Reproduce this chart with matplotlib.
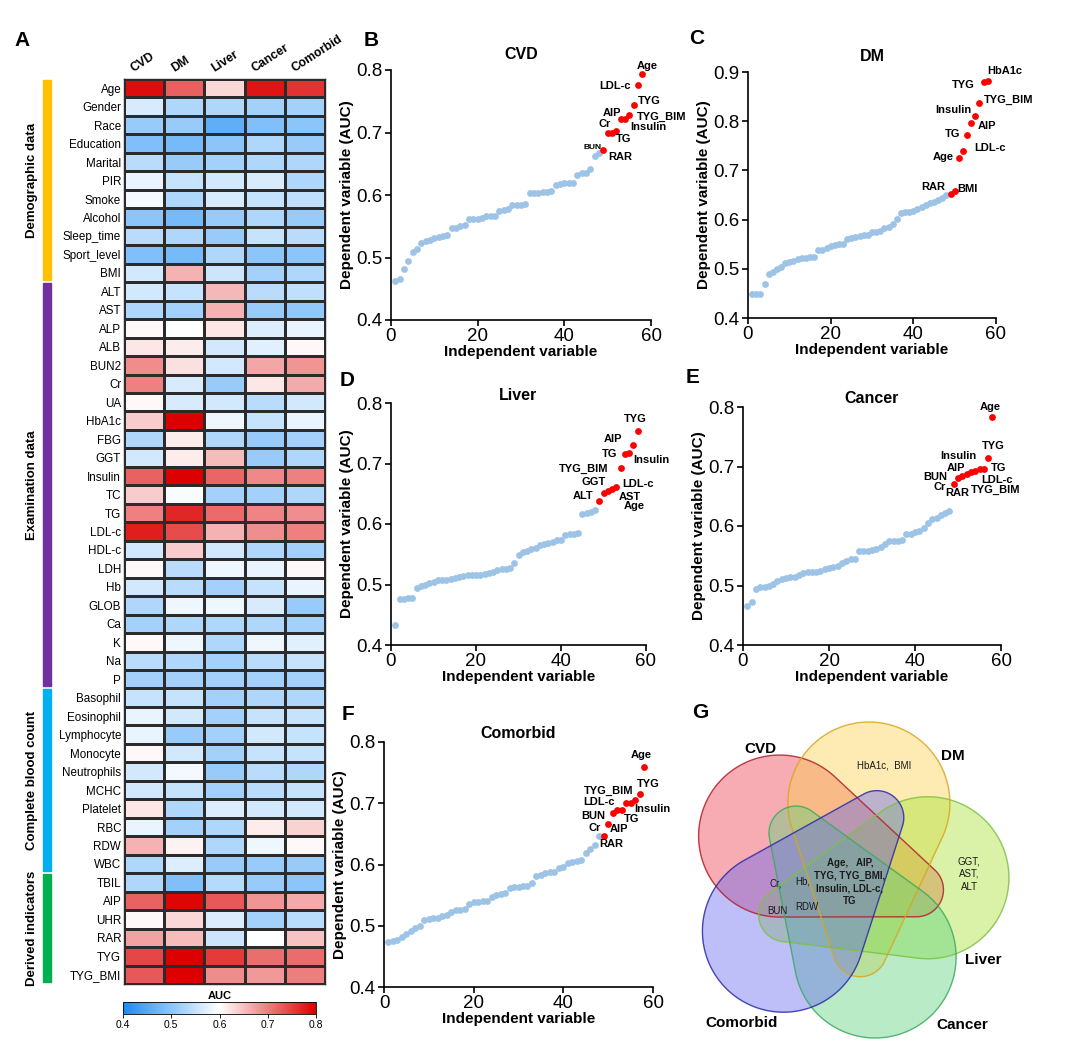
"""Heatmap of AUC values, ranked AUC scatter panels and five-set overlap diagram."""

import numpy as np
import matplotlib

matplotlib.use("Agg")
import matplotlib.pyplot as plt
from matplotlib.colors import LinearSegmentedColormap
from matplotlib.patches import Polygon, Rectangle

plt.rcParams["font.family"] = ["Liberation Sans", "DejaVu Sans"]

W, H = 1080, 1045

DISEASES = ["CVD", "DM", "Liver", "Cancer", "Comorbid"]
ROWS = [
    "Age", "Gender", "Race", "Education", "Marital", "PIR", "Smoke", "Alcohol",
    "Sleep_time", "Sport_level", "BMI",
    "ALT", "AST", "ALP", "ALB", "BUN2", "Cr", "UA", "HbA1c", "FBG", "GGT",
    "Insulin", "TC", "TG", "LDL-c", "HDL-c", "LDH", "Hb", "GLOB", "Ca", "K", "Na", "P",
    "Basophil", "Eosinophil", "Lymphocyte", "Monocyte", "Neutrophils", "MCHC",
    "Platelet", "RBC", "RDW", "WBC",
    "TBIL", "AIP", "UHR", "RAR", "TYG", "TYG_BMI",
]
GROUP_NAMES = ["Demographic data", "Examination data", "Complete blood count", "Derived indicators"]
GROUP_SPANS = [(0, 11), (11, 33), (33, 43), (43, 49)]
GROUP_COLORS = ["#FFC000", "#7030A0", "#00B0F0", "#00B050"]

CVD_AUC = [0.79, 0.565, 0.51, 0.49, 0.54, 0.58, 0.59, 0.50, 0.54, 0.49, 0.56,
           0.56, 0.53, 0.605, 0.62, 0.69, 0.70, 0.605, 0.64, 0.53, 0.56, 0.723, 0.64,
           0.70, 0.776, 0.56, 0.605, 0.56, 0.53, 0.52, 0.605, 0.54, 0.52,
           0.55, 0.58, 0.58, 0.605, 0.56, 0.56, 0.62, 0.58, 0.66, 0.53,
           0.53, 0.722, 0.605, 0.672, 0.745, 0.73]
DM_AUC = [0.725, 0.53, 0.51, 0.48, 0.51, 0.55, 0.53, 0.48, 0.53, 0.48, 0.66,
          0.55, 0.52, 0.60, 0.615, 0.625, 0.565, 0.565, 0.88, 0.615, 0.615, 0.81, 0.595,
          0.77, 0.74, 0.64, 0.54, 0.54, 0.585, 0.53, 0.585, 0.53, 0.52,
          0.55, 0.56, 0.51, 0.56, 0.59, 0.55, 0.53, 0.52, 0.61, 0.57,
          0.49, 0.795, 0.63, 0.653, 0.88, 0.838]
LIVER_AUC = [0.63, 0.53, 0.46, 0.50, 0.52, 0.56, 0.565, 0.51, 0.51, 0.53, 0.555,
             0.655, 0.66, 0.62, 0.56, 0.56, 0.51, 0.56, 0.585, 0.53, 0.653, 0.72, 0.52,
             0.717, 0.66, 0.56, 0.585, 0.52, 0.585, 0.53, 0.53, 0.52, 0.52,
             0.52, 0.52, 0.52, 0.52, 0.51, 0.52, 0.57, 0.53, 0.53, 0.51,
             0.535, 0.73, 0.57, 0.555, 0.754, 0.69]
CANCER_AUC = [0.783, 0.52, 0.49, 0.53, 0.53, 0.565, 0.55, 0.53, 0.55, 0.50, 0.52,
              0.54, 0.51, 0.57, 0.575, 0.67, 0.62, 0.54, 0.55, 0.51, 0.51, 0.693, 0.52,
              0.696, 0.688, 0.53, 0.58, 0.55, 0.565, 0.53, 0.585, 0.54, 0.52,
              0.53, 0.55, 0.56, 0.55, 0.54, 0.54, 0.56, 0.615, 0.585, 0.51,
              0.51, 0.684, 0.52, 0.60, 0.714, 0.68]
COMORBID_AUC = [0.76, 0.52, 0.50, 0.51, 0.53, 0.53, 0.545, 0.51, 0.54, 0.50, 0.53,
                0.545, 0.505, 0.58, 0.605, 0.684, 0.666, 0.56, 0.58, 0.52, 0.53, 0.70, 0.53,
                0.689, 0.70, 0.52, 0.605, 0.58, 0.51, 0.52, 0.575, 0.55, 0.52,
                0.53, 0.55, 0.55, 0.55, 0.53, 0.55, 0.56, 0.635, 0.605, 0.51,
                0.50, 0.666, 0.54, 0.647, 0.715, 0.701]

# ranked AUC of every independent variable, the last 10 are highlighted in red
CVD_SORTED = [0.463, 0.465, 0.481, 0.494, 0.509, 0.513, 0.523, 0.527, 0.528, 0.532,
              0.533, 0.534, 0.536, 0.547, 0.548, 0.551, 0.552, 0.561, 0.561, 0.561,
              0.564, 0.566, 0.567, 0.567, 0.575, 0.576, 0.577, 0.584, 0.584, 0.584,
              0.585, 0.603, 0.604, 0.604, 0.605, 0.605, 0.607, 0.616, 0.618, 0.619,
              0.619, 0.620, 0.632, 0.636, 0.636, 0.642, 0.662, 0.668,
              0.672, 0.699, 0.699, 0.703, 0.722, 0.722, 0.728, 0.744, 0.776, 0.793]
DM_SORTED = [0.448, 0.448, 0.448, 0.470, 0.489, 0.494, 0.499, 0.504, 0.511, 0.513,
             0.516, 0.519, 0.522, 0.522, 0.523, 0.524, 0.538, 0.539, 0.543, 0.547,
             0.548, 0.550, 0.551, 0.560, 0.562, 0.565, 0.566, 0.568, 0.568, 0.575,
             0.575, 0.577, 0.582, 0.585, 0.591, 0.601, 0.613, 0.615, 0.616, 0.618,
             0.621, 0.626, 0.630, 0.633, 0.636, 0.640, 0.643, 0.650,
             0.653, 0.659, 0.726, 0.740, 0.771, 0.796, 0.811, 0.838, 0.880, 0.882]
LIVER_SORTED = [0.433, 0.476, 0.476, 0.477, 0.477, 0.494, 0.497, 0.500, 0.502, 0.504,
                0.508, 0.508, 0.508, 0.509, 0.510, 0.513, 0.514, 0.515, 0.515, 0.515,
                0.515, 0.517, 0.519, 0.521, 0.524, 0.525, 0.526, 0.527, 0.535, 0.549,
                0.553, 0.556, 0.558, 0.560, 0.565, 0.567, 0.568, 0.571, 0.573, 0.573,
                0.582, 0.583, 0.583, 0.585, 0.617, 0.619, 0.620, 0.623,
                0.638, 0.652, 0.655, 0.658, 0.661, 0.692, 0.716, 0.717, 0.730, 0.754]
CANCER_SORTED = [0.465, 0.472, 0.494, 0.497, 0.497, 0.499, 0.503, 0.508, 0.511, 0.513,
                 0.514, 0.514, 0.518, 0.521, 0.522, 0.523, 0.523, 0.525, 0.527, 0.529,
                 0.531, 0.533, 0.537, 0.542, 0.544, 0.544, 0.558, 0.558, 0.558, 0.560,
                 0.562, 0.565, 0.570, 0.574, 0.574, 0.575, 0.577, 0.586, 0.586, 0.590,
                 0.591, 0.596, 0.605, 0.612, 0.614, 0.618, 0.622, 0.626,
                 0.671, 0.680, 0.684, 0.688, 0.690, 0.693, 0.696, 0.696, 0.714, 0.784]
COMORBID_SORTED = [0.474, 0.475, 0.476, 0.482, 0.487, 0.492, 0.497, 0.499, 0.509, 0.511,
                   0.512, 0.512, 0.516, 0.517, 0.522, 0.526, 0.526, 0.527, 0.535, 0.538,
                   0.538, 0.540, 0.541, 0.547, 0.551, 0.552, 0.553, 0.561, 0.564, 0.564,
                   0.565, 0.565, 0.570, 0.581, 0.583, 0.586, 0.587, 0.587, 0.594, 0.596,
                   0.603, 0.604, 0.605, 0.608, 0.619, 0.625, 0.632, 0.646,
                   0.647, 0.666, 0.684, 0.689, 0.689, 0.700, 0.701, 0.706, 0.715, 0.759]
N_TOP = 10

CVD_LABELS = [("Age", 59.1, 0.806), ("LDL-c", 51.8, 0.774), ("TYG", 59.7, 0.751),
              ("AIP", 51.0, 0.732), ("TYG_BIM", 62.5, 0.725), ("Cr", 49.3, 0.714),
              ("Insulin", 59.5, 0.708), ("TG", 53.7, 0.690), ("BUN", 46.4, 0.676),
              ("RAR", 52.9, 0.660)]
DM_LABELS = [("HbA1c", 62.2, 0.903), ("TYG", 52.1, 0.873), ("TYG_BIM", 63.0, 0.844),
             ("Insulin", 49.8, 0.823), ("AIP", 57.9, 0.791), ("TG", 49.5, 0.774),
             ("LDL-c", 58.5, 0.745), ("Age", 47.3, 0.727), ("RAR", 44.7, 0.667),
             ("BMI", 53.1, 0.662)]
LIVER_LABELS = [("TYG", 57.6, 0.774), ("AIP", 52.2, 0.740), ("TG", 51.5, 0.716),
                ("Insulin", 61.3, 0.706), ("TYG_BIM", 45.3, 0.691), ("GGT", 47.6, 0.669),
                ("LDL-c", 58.2, 0.666), ("ALT", 45.3, 0.647), ("AST", 56.2, 0.645),
                ("Age", 57.2, 0.629)]
CANCER_LABELS = [("Age", 57.4, 0.800), ("TYG", 58.2, 0.734), ("Insulin", 50.1, 0.718),
                 ("AIP", 49.5, 0.697), ("TG", 59.5, 0.697), ("BUN", 44.7, 0.682),
                 ("LDL-c", 59.0, 0.678), ("Cr", 45.7, 0.666), ("RAR", 49.8, 0.655),
                 ("TYG_BIM", 58.8, 0.661)]
COMORBID_LABELS = [("Age", 57.4, 0.779), ("TYG", 58.9, 0.732), ("TYG_BIM", 50.2, 0.720),
                   ("LDL-c", 48.0, 0.702), ("Insulin", 59.9, 0.691), ("BUN", 46.6, 0.679),
                   ("TG", 55.2, 0.674), ("Cr", 47.0, 0.660), ("AIP", 52.4, 0.658),
                   ("RAR", 50.7, 0.633)]

VENN_FILLS = ["#ee3a4a", "#fbd04a", "#a6e22e", "#5ad17a", "#6464f0"]
VENN_EDGES = ["#b0202c", "#d9a520", "#7cc242", "#3caa60", "#2a2aa8"]
VENN_REGIONS = [
    ("HbA1c,  BMI", 884, 766, "normal"),
    ("GGT,\nAST,\nALT", 969, 874, "normal"),
    ("Age,   AIP,\nTYG, TYG_BMI,\nInsulin, LDL-c,\nTG", 850, 882, "bold"),
    ("Cr,", 776, 884, "normal"),
    ("BUN", 777, 911, "normal"),
    ("Hb,", 803, 881, "normal"),
    ("RDW", 807, 907, "normal"),
]
VENN_NAME_POS = [(760, 749), (953, 756), (983, 960), (962, 1025), (742, 1023)]


def px_axes(fig, left, top, right, bottom):
    return fig.add_axes([left / W, 1 - bottom / H, (right - left) / W, (bottom - top) / H])


def letter(fig, x, y, s):
    fig.text(x / W, 1 - y / H, s, fontsize=15, fontweight="bold", ha="center", va="center")


def plot_heatmap(fig):
    ax = px_axes(fig, 124, 79, 325, 984)
    data = np.array([CVD_AUC, DM_AUC, LIVER_AUC, CANCER_AUC, COMORBID_AUC]).T
    cmap = LinearSegmentedColormap.from_list("auc", ["#1a8cf5", "#ffffff", "#dc0000"])
    mesh = ax.pcolormesh(data, cmap=cmap, vmin=0.4, vmax=0.8,
                         edgecolors="#2b2b2b", linewidth=0.9)
    ax.set_xlim(0, len(DISEASES))
    ax.set_ylim(len(ROWS), 0)
    ax.set_xticks([])
    ax.set_yticks(np.arange(len(ROWS)) + 0.5)
    ax.set_yticklabels(ROWS, fontsize=8.4)
    ax.tick_params(axis="y", length=0, pad=2)
    for spine in ax.spines.values():
        spine.set_linewidth(1.0)
        spine.set_color("#2b2b2b")
    for j, name in enumerate(DISEASES):
        ax.text(j + 0.28, -0.25, name, rotation=33, ha="left", va="bottom",
                rotation_mode="anchor", fontsize=8.8, fontweight="bold")

    row_h = (984 - 79) / len(ROWS)
    for name, (start, end), color in zip(GROUP_NAMES, GROUP_SPANS, GROUP_COLORS):
        top = 79 + start * row_h + 1
        bottom = 79 + end * row_h - 2
        fig.patches.append(Rectangle((43 / W, 1 - bottom / H), 8 / W, (bottom - top) / H,
                                     transform=fig.transFigure, color=color))
        fig.text(32 / W, 1 - (top + bottom) / 2 / H, name, rotation=90, ha="center",
                 va="center", fontsize=9.5, fontweight="bold")

    cax = px_axes(fig, 123, 1002, 316, 1014)
    cb = fig.colorbar(mesh, cax=cax, orientation="horizontal", ticks=[0.4, 0.5, 0.6, 0.7, 0.8])
    cb.outline.set_linewidth(0.6)
    cax.tick_params(labelsize=7.5, length=3, width=0.6, pad=1)
    cax.set_title("AUC", fontsize=8, fontweight="bold", pad=2)


def plot_ranked(fig, rect, title, values, labels, ylim, title_pad):
    ax = px_axes(fig, *rect)
    vals = np.array(values)
    x = np.arange(1, len(vals) + 1)
    ax.scatter(x[:-N_TOP], vals[:-N_TOP], s=24, color="#9DC3E6", linewidths=0, zorder=3)
    ax.scatter(x[-N_TOP:], vals[-N_TOP:], s=24, color="#FF0000", linewidths=0, zorder=4)
    for text, tx, ty in labels:
        size = 6 if (text == "BUN" and title == "CVD") else 8
        ax.text(tx, ty, text, ha="center", va="center", fontsize=size,
                fontweight="bold", zorder=5)
    ax.set_xlim(0, 60)
    ax.set_ylim(*ylim)
    ax.set_xticks([0, 20, 40, 60])
    ax.set_yticks(np.arange(ylim[0], ylim[1] + 0.001, 0.1))
    ax.yaxis.set_major_formatter(matplotlib.ticker.FormatStrFormatter("%.1f"))
    ax.tick_params(labelsize=13.5, length=4, width=1.2, pad=2)
    for side in ("top", "right"):
        ax.spines[side].set_visible(False)
    for side in ("left", "bottom"):
        ax.spines[side].set_linewidth(1.2)
    ax.set_xlabel("Independent variable", fontsize=11, fontweight="bold", labelpad=0)
    ax.set_ylabel("Dependent variable (AUC)", fontsize=11, fontweight="bold", labelpad=2)
    ax.set_title(title, fontsize=11.5, fontweight="bold", pad=title_pad)


def round_cone(a, b, r1, r2):
    d = b - a
    dist = np.hypot(*d)
    theta = np.arctan2(d[1], d[0])
    beta = np.arccos((r1 - r2) / dist)
    back = np.linspace(theta + beta, theta + 2 * np.pi - beta, 200)
    front = np.linspace(theta - beta, theta + beta, 80)
    pts1 = np.column_stack([a[0] + r1 * np.cos(back), a[1] + r1 * np.sin(back)])
    pts2 = np.column_stack([b[0] + r2 * np.cos(front), b[1] + r2 * np.sin(front)])
    return np.vstack([pts1, pts2])


def plot_venn(fig):
    ax = px_axes(fig, 680, 700, 1030, 1045)
    ax.set_xlim(680, 1030)
    ax.set_ylim(1045, 700)
    ax.axis("off")
    center = np.array([847.0, 881.0])
    shapes = []
    for k in range(5):
        rot = np.deg2rad(72 * k)
        lobe_ang = np.deg2rad(-146.3) + rot
        tail_ang = np.deg2rad(7.2) + rot
        a = center + 81 * np.array([np.cos(lobe_ang), np.sin(lobe_ang)])
        b = center + 70 * np.array([np.cos(tail_ang), np.sin(tail_ang)])
        shapes.append(round_cone(a, b, 81, 27))
    for pts, fc in zip(shapes, VENN_FILLS):
        ax.add_patch(Polygon(pts, closed=True, facecolor=fc, edgecolor="none", alpha=0.42))
    for pts, ec in zip(shapes, VENN_EDGES):
        ax.add_patch(Polygon(pts, closed=True, facecolor="none", edgecolor=ec,
                             linewidth=1.0, alpha=0.85))
    for name, (tx, ty) in zip(DISEASES, VENN_NAME_POS):
        ax.text(tx, ty, name, ha="center", va="center", fontsize=11, fontweight="bold")
    for text, tx, ty, weight in VENN_REGIONS:
        ax.text(tx, ty, text, ha="center", va="center", fontsize=7,
                fontweight=weight, linespacing=1.35, color="#1a1a1a")


fig = plt.figure(figsize=(W / 100, H / 100), dpi=100)
plot_heatmap(fig)
plot_ranked(fig, (391, 70, 651, 320), "CVD", CVD_SORTED, CVD_LABELS, (0.4, 0.8), 8)
plot_ranked(fig, (748, 72, 996, 318), "DM", DM_SORTED, DM_LABELS, (0.4, 0.9), 8)
plot_ranked(fig, (391, 403, 646, 645), "Liver", LIVER_SORTED, LIVER_LABELS, (0.4, 0.8), 2)
plot_ranked(fig, (743, 407, 1001, 645), "Cancer", CANCER_SORTED, CANCER_LABELS, (0.4, 0.8), 3)
plot_ranked(fig, (384, 742, 653, 987), "Comorbid", COMORBID_SORTED, COMORBID_LABELS, (0.4, 0.8), 3)
plot_venn(fig)
for s, x, y in [("A", 22, 40), ("B", 371, 40), ("C", 697, 38), ("D", 347, 380),
                ("E", 693, 378), ("F", 348, 715), ("G", 700, 713)]:
    letter(fig, x, y, s)
fig.savefig("out.png", dpi=100)
